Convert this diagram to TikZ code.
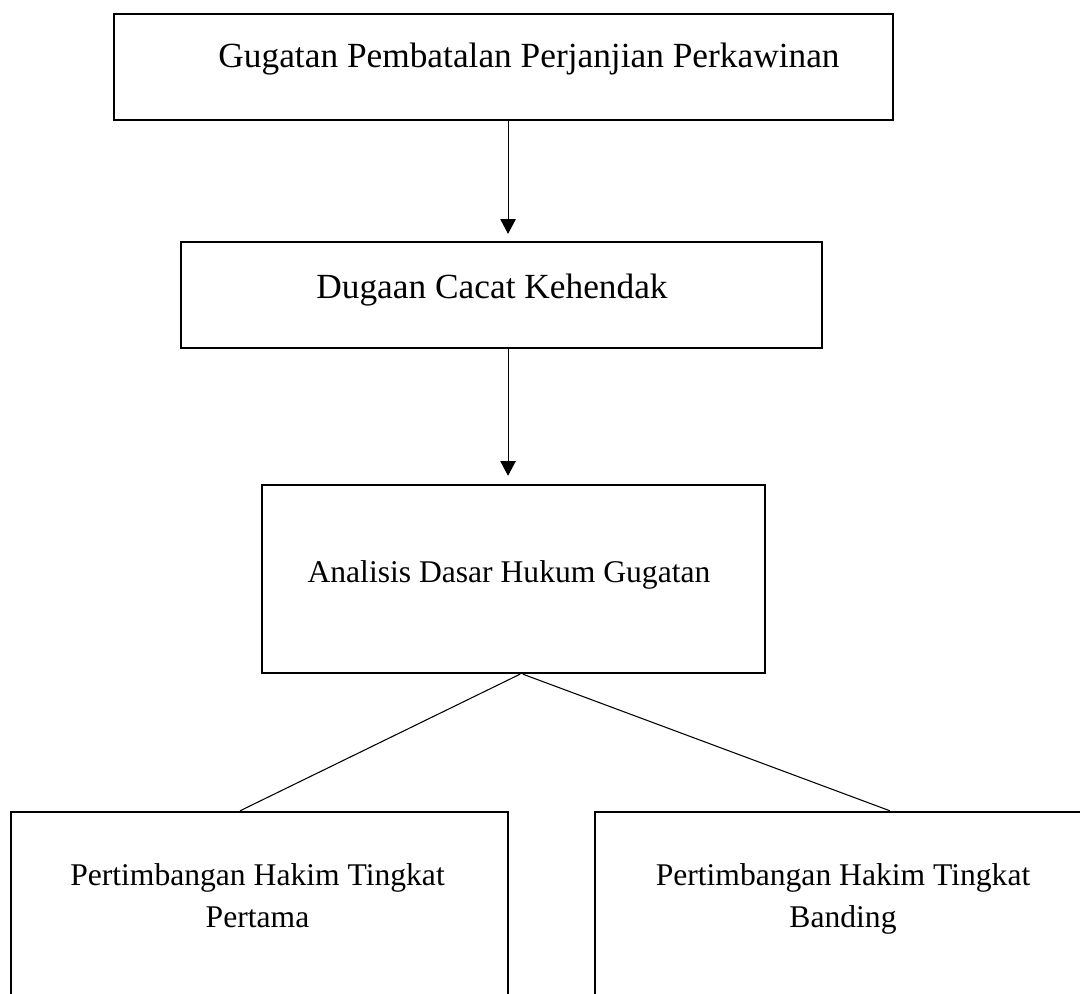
\documentclass[tikz,border=0pt]{standalone}
\usepackage{fontspec}
\setmainfont{Liberation Serif}
\usetikzlibrary{fit,arrows.meta}
\begin{document}
\begin{tikzpicture}[x=0.75pt,y=-0.75pt,
  box/.style={draw=black,line width=1.8pt,inner sep=0pt,rectangle},
  txt/.style={anchor=base,inner sep=0pt,font=\fontsize{26.5}{32}\selectfont,align=center},
  txtsm/.style={txt,font=\fontsize{23.7}{31.5}\selectfont},
  arr/.style={line width=0.8pt,-{Triangle[width=11.5pt,length=11pt]}},
  conn/.style={line width=0.8pt}]
\useasboundingbox (0,0) rectangle (1080,994);
\clip (0,0) rectangle (1080,994);
\node[box,fit={(114,14) (893,120)}] (b1) {};
\node[box,fit={(181,242) (822,348)}] (b2) {};
\node[box,fit={(262,485) (765,673)}] (b3) {};
\node[box,fit={(11,812) (508,1010)}] (b4) {};
\node[box,fit={(595,812) (1091,1010)}] (b5) {};
\node[txt] (t1) at (529,68) {Gugatan Pembatalan Perjanjian Perkawinan};
\node[txt] (t2) at (492,299) {Dugaan Cacat Kehendak};
\node[txtsm] (t3) at (509,582) {Analisis Dasar Hukum Gugatan};
\node[txtsm,anchor=north] (t4) at (257.5,863) {Pertimbangan Hakim Tingkat\\Pertama};
\node[txtsm,anchor=north] (t5) at (843,863) {Pertimbangan Hakim Tingkat\\Banding};
\draw[arr,shorten >=5.2pt] ([xshift=3.4pt]b1.south) -- ([xshift=4.9pt]b2.north);
\draw[arr,shorten >=6pt] ([xshift=-4.1pt]b3.north |- b2.south) -- ([xshift=-4.1pt]b3.north);
\draw[conn] ([xshift=4.9pt]b3.south) -- ([xshift=-14.6pt]b4.north);
\draw[conn] ([xshift=7.1pt]b3.south) -- ([xshift=35.2pt]b5.north);
\end{tikzpicture}
\end{document}
